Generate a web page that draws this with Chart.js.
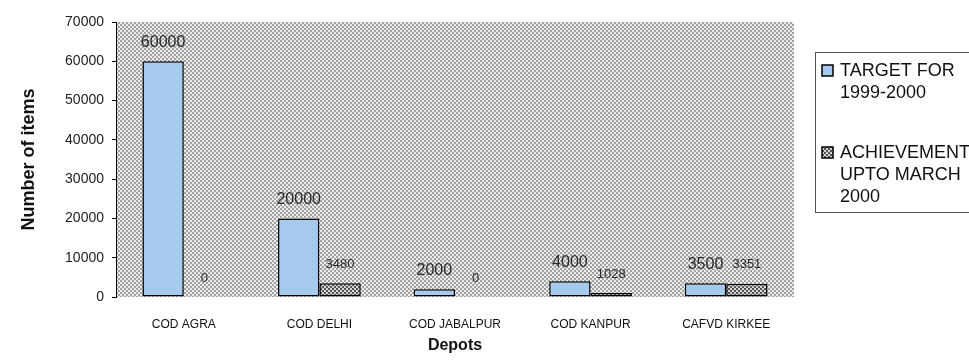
<!DOCTYPE html>
<html>
<head>
<meta charset="utf-8">
<title>Depots - target vs achievement</title>
<script src="https://cdn.jsdelivr.net/npm/chart.js@4.4.1/dist/chart.umd.min.js"></script>
<style>
  html, body { margin: 0; padding: 0; background: #ffffff; }
  #chartBox { width: 969px; height: 361px; }
</style>
</head>
<body>
<div id="chartBox"><canvas id="depotChart" width="969" height="361"></canvas></div>
<script>
// Depots and item counts
const depots = ['COD AGRA', 'COD DELHI', 'COD JABALPUR', 'COD KANPUR', 'CAFVD KIRKEE'];
const target = [60000, 20000, 2000, 4000, 3500];
const achievement = [0, 3480, 0, 1028, 3351];
const seriesNames = [['TARGET FOR', '1999-2000'], ['ACHIEVEMENT', 'UPTO MARCH', '2000']];
const yMax = 70000;
const yStep = 10000;

Chart.defaults.font.family = "'Liberation Sans', Arial, sans-serif";
Chart.defaults.color = '#222';

// small checkerboard fills
function checker(size, dark, light) {
  const c = document.createElement('canvas');
  c.width = size * 2;
  c.height = size * 2;
  const g = c.getContext('2d');
  g.fillStyle = light;
  g.fillRect(0, 0, c.width, c.height);
  g.fillStyle = dark;
  g.fillRect(0, 0, size, size);
  g.fillRect(size, size, size, size);
  return g.createPattern(c, 'repeat');
}

const ctx = document.getElementById('depotChart').getContext('2d');
const plotFill = checker(2, '#a2a2a2', '#ececec');
const achieveFill = checker(2, '#555555', '#d6d6d6');
const targetFill = '#a6c9ee';

// grey dotted plot area
const plotBackground = {
  id: 'plotBackground',
  beforeDraw(chart) {
    const a = chart.chartArea;
    const c = chart.ctx;
    c.save();
    c.fillStyle = plotFill;
    c.fillRect(a.left, a.top, a.right - a.left, a.bottom - a.top);
    c.restore();
  }
};

// value labels above each bar
const valueLabels = {
  id: 'valueLabels',
  afterDatasetsDraw(chart) {
    const c = chart.ctx;
    c.save();
    c.textAlign = 'center';
    c.textBaseline = 'middle';
    c.fillStyle = '#2b2b2b';
    chart.data.datasets.forEach((ds, i) => {
      c.font = (i === 0 ? '16px' : '13px') + " 'Liberation Sans', Arial, sans-serif";
      chart.getDatasetMeta(i).data.forEach((bar, j) => {
        c.fillText(String(ds.data[j]), bar.x, bar.y - 19);
      });
    });
    c.restore();
  }
};

// boxed legend on the right with wrapped names
const sideLegend = {
  id: 'sideLegend',
  afterDraw(chart) {
    const c = chart.ctx;
    c.save();
    c.strokeStyle = '#555';
    c.lineWidth = 1;
    c.strokeRect(815.5, 52.5, 170, 160);
    c.font = "18px 'Liberation Sans', Arial, sans-serif";
    c.textBaseline = 'middle';
    const starts = [71, 153];
    chart.data.datasets.forEach((ds, i) => {
      const y0 = starts[i];
      c.fillStyle = ds.backgroundColor;
      c.fillRect(822, y0 - 6, 11, 11);
      c.strokeStyle = '#000';
      c.lineWidth = 1.5;
      c.strokeRect(822, y0 - 6, 11, 11);
      c.fillStyle = '#111';
      seriesNames[i].forEach((line, k) => {
        c.fillText(line, 840, y0 + k * 22);
      });
    });
    c.restore();
  }
};

new Chart(ctx, {
  type: 'bar',
  data: {
    labels: depots,
    datasets: [
      {
        label: seriesNames[0].join(' '),
        data: target,
        backgroundColor: targetFill,
        borderColor: '#000',
        borderWidth: 1.5,
        borderSkipped: false
      },
      {
        label: seriesNames[1].join(' '),
        data: achievement,
        backgroundColor: achieveFill,
        borderColor: '#000',
        borderWidth: 1.5,
        borderSkipped: false
      }
    ]
  },
  options: {
    responsive: false,
    animation: false,
    devicePixelRatio: 1,
    categoryPercentage: 0.61,
    barPercentage: 1,
    layout: { padding: { left: 0, right: 175, top: 22, bottom: 0 } },
    plugins: {
      legend: { display: false },
      tooltip: { enabled: false }
    },
    scales: {
      x: {
        grid: { display: false, drawTicks: false },
        border: { display: false },
        ticks: { font: { size: 12 }, color: '#111', padding: 20, maxRotation: 0 },
        title: {
          display: true,
          text: 'Depots',
          font: { size: 16, weight: 'bold' },
          color: '#111',
          padding: { top: 0, bottom: 6 }
        },
        afterFit(scale) { scale.height = 64; }
      },
      y: {
        min: 0,
        max: yMax,
        ticks: {
          stepSize: yStep,
          font: { size: 14 },
          color: '#222',
          padding: 8,
          callback: v => String(v)
        },
        grid: { drawOnChartArea: false, drawTicks: true, tickLength: 4, color: '#000' },
        border: { display: true, color: '#000', width: 1 },
        title: {
          display: true,
          text: 'Number of items',
          font: { size: 18, weight: 'bold' },
          color: '#111',
          padding: { top: 18, bottom: 0 }
        },
        afterFit(scale) { scale.width = 116; }
      }
    }
  },
  plugins: [plotBackground, valueLabels, sideLegend]
});
</script>
</body>
</html>
